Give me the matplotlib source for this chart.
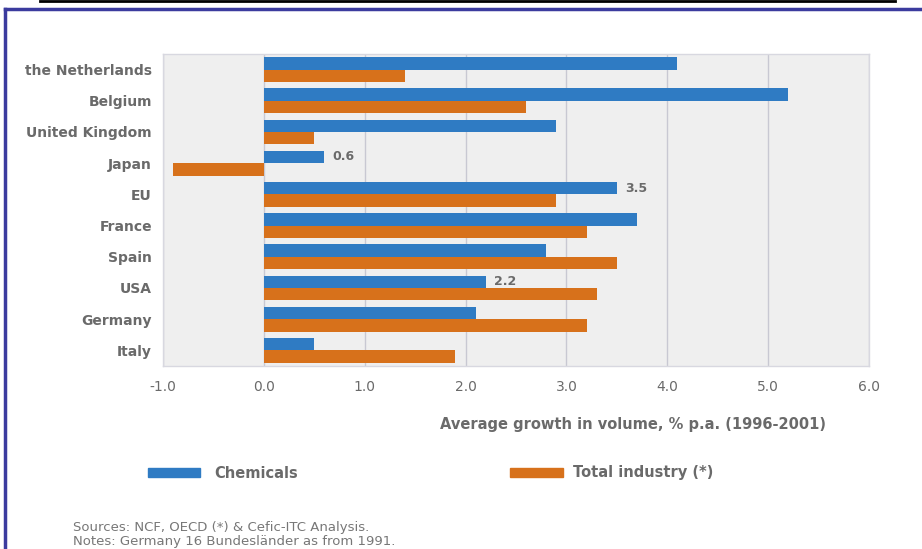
import matplotlib
matplotlib.use("Agg")
import matplotlib.pyplot as plt
from matplotlib.patches import Rectangle
from matplotlib.lines import Line2D
import numpy as np

countries = ["the Netherlands", "Belgium", "United Kingdom", "Japan", "EU",
             "France", "Spain", "USA", "Germany", "Italy"]
chemicals = [4.1, 5.2, 2.9, 0.6, 3.5, 3.7, 2.8, 2.2, 2.1, 0.5]
total_industry = [1.4, 2.6, 0.5, -0.9, 2.9, 3.2, 3.5, 3.3, 3.2, 1.9]
labelled = {"Japan": "0.6", "EU": "3.5", "USA": "2.2"}
xticks = [-1.0, 0.0, 1.0, 2.0, 3.0, 4.0, 5.0, 6.0]

BLUE = "#2f7bc3"
ORANGE = "#d7711b"
TXT = "#6a6a6a"
FONT = ["DejaVu Sans"]
plt.rcParams["font.family"] = FONT

fig = plt.figure(figsize=(9.22, 5.49), dpi=100)
fig.patch.set_facecolor("white")

ax = fig.add_axes([163/922, 1-366/549, (869-163)/922, (366-54)/549])
ax.set_facecolor("#efefef")

y = np.arange(len(countries))
h = 0.4
ax.barh(y - h/2, chemicals, height=h, color=BLUE, zorder=3)
ax.barh(y + h/2, total_industry, height=h, color=ORANGE, zorder=3)

for i, c in enumerate(countries):
    if c in labelled:
        ax.text(chemicals[i] + 0.08, y[i] - h/2, labelled[c], va="center", ha="left",
                fontsize=9, color=TXT, fontweight="bold", zorder=4)

ax.set_xlim(-1.0, 6.0)
ax.set_ylim(len(countries) - 0.5, -0.5)
ax.set_xticks(xticks)
ax.set_xticklabels([f"{v:.1f}" for v in xticks], fontsize=10, color=TXT)
ax.set_yticks(y)
ax.set_yticklabels(countries, fontsize=10, color=TXT, fontweight="bold")
ax.tick_params(axis="both", length=0, pad=10)
ax.tick_params(axis="y", pad=8)
ax.grid(axis="x", color="#c8c8d2", linewidth=1.0, zorder=1)
for s in ax.spines.values():
    s.set_color("#d8d8e0")
    s.set_linewidth(1.0)

fig.text(633/922, 1-424/549, "Average growth in volume, % p.a. (1996-2001)",
         ha="center", va="center", fontsize=10.5, color=TXT, fontweight="bold")

# legend
fig.patches.append(Rectangle((148/922, 1-477/549), 52/922, 9/549, transform=fig.transFigure,
                             color=BLUE, figure=fig))
fig.text(214/922, 1-473/549, "Chemicals", ha="left", va="center", fontsize=10.5,
         color=TXT, fontweight="bold")
fig.patches.append(Rectangle((510/922, 1-477/549), 53/922, 9/549, transform=fig.transFigure,
                             color=ORANGE, figure=fig))
fig.text(573/922, 1-473/549, "Total industry (*)", ha="left", va="center", fontsize=10.5,
         color=TXT, fontweight="bold")

fig.text(73/922, 1-528/549, "Sources: NCF, OECD (*) & Cefic-ITC Analysis.", ha="left",
         va="center", fontsize=9.5, color="#777777")
fig.text(73/922, 1-542/549, "Notes: Germany 16 Bundesländer as from 1991.", ha="left",
         va="center", fontsize=9.5, color="#777777")

# frame lines
fig.lines.append(Line2D([40/922, 895/922], [1-1/549, 1-1/549], transform=fig.transFigure,
                        color="black", linewidth=2))
fig.lines.append(Line2D([5/922, 1.0], [1-9/549, 1-9/549], transform=fig.transFigure,
                        color="#3b3b9e", linewidth=2.5))
fig.lines.append(Line2D([5/922, 5/922], [0, 1-9/549], transform=fig.transFigure,
                        color="#3b3b9e", linewidth=2.5))

fig.savefig("out.png", dpi=100)
